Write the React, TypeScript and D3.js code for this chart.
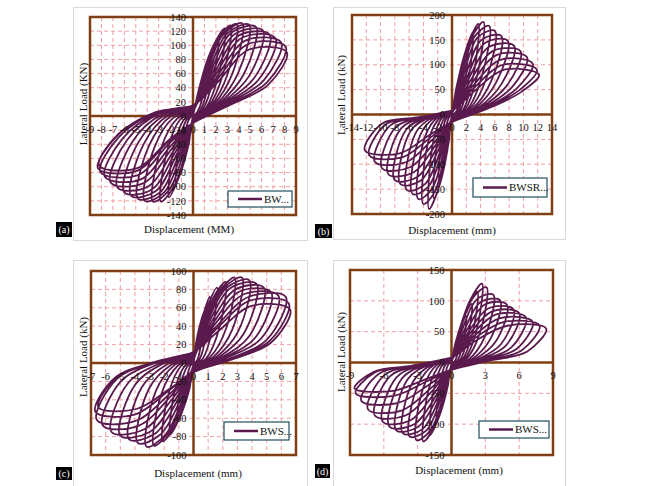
import * as d3 from 'd3';

// each lobe: [peak disp, peak load, load at 0.25*disp and 0.6*disp on loading,
//             load at 0.8*disp and 0.4*disp on unloading, load where it crosses zero disp]
type Lobe = [number, number, number, number, number, number, number];

// (a) BW
const posLoopsA: Lobe[] = [
  [1.0, 50, 18, 36, 24, 6, -2], [1.6, 85, 30, 62, 40, 8, -3], [2.2, 110, 40, 82, 52, 10, -4],
  [2.8, 124, 48, 96, 58, 11, -5], [3.3, 128, 50, 104, 60, 12, -6], [3.8, 130, 52, 110, 60, 13, -7],
  [4.3, 131, 54, 114, 60, 14, -8], [4.9, 129, 55, 116, 60, 15, -8], [5.5, 126, 56, 117, 58, 16, -9],
  [6.1, 121, 56, 116, 56, 17, -9], [6.7, 115, 55, 114, 54, 18, -10], [7.2, 110, 54, 111, 52, 18, -10],
  [7.7, 104, 52, 107, 50, 18, -10], [8.1, 98, 50, 102, 48, 17, -10], [8.2, 90, 46, 94, 44, 16, -10],
];
const negLoopsA: Lobe[] = [
  [-0.9, -60, -25, -42, -25, -5, 3], [-1.5, -95, -40, -70, -40, -6, 4], [-2.1, -115, -50, -88, -45, -6, 5],
  [-2.8, -121, -55, -100, -48, -5, 6], [-3.5, -121, -55, -105, -46, -4, 7], [-4.2, -120, -55, -108, -44, -2, 8],
  [-4.8, -117, -54, -108, -42, 0, 9], [-5.4, -113, -52, -106, -40, 1, 10], [-6.0, -108, -50, -104, -38, 2, 11],
  [-6.6, -101, -48, -100, -36, 3, 12], [-7.2, -94, -45, -95, -34, 4, 13], [-7.7, -86, -42, -90, -32, 4, 14],
  [-8.1, -79, -38, -84, -30, 5, 15], [-8.3, -74, -35, -78, -28, 5, 15], [-8.2, -70, -33, -74, -26, 4, 14],
];
const xTicksA = [-9, -8, -7, -6, -5, -4, -3, -2, -1, 0, 1, 2, 3, 4, 5, 6, 7, 8, 9];
const yTicksA = [-140, -120, -100, -80, -60, -40, -20, 0, 20, 40, 60, 80, 100, 120, 140];

// (b) BWSR
const posLoopsB: Lobe[] = [
  [1.5, 90, 35, 65, 40, 6, -3], [2.2, 135, 50, 95, 58, 7, -4], [2.9, 165, 60, 120, 70, 8, -5],
  [3.7, 182, 68, 140, 76, 8, -6], [4.4, 186, 72, 152, 78, 9, -7], [5.2, 178, 74, 156, 76, 9, -8],
  [6.0, 168, 74, 155, 72, 10, -9], [6.9, 158, 72, 150, 68, 10, -10], [7.8, 148, 70, 144, 66, 11, -11],
  [8.7, 138, 68, 136, 62, 11, -12], [9.6, 127, 64, 128, 58, 12, -13], [10.5, 115, 60, 120, 55, 12, -14],
  [11.3, 102, 56, 110, 52, 12, -14], [11.9, 90, 52, 100, 50, 12, -15], [12.2, 80, 46, 90, 46, 11, -15],
];
const negLoopsB: Lobe[] = [
  [-1.0, -70, -30, -50, -25, -5, 2], [-1.8, -130, -55, -95, -40, -6, 2], [-2.5, -170, -70, -130, -48, -6, 3],
  [-3.2, -190, -78, -150, -50, -5, 3], [-4.0, -180, -78, -155, -48, -5, 4], [-4.7, -170, -76, -150, -44, -4, 4],
  [-5.5, -160, -74, -145, -40, -4, 5], [-6.3, -152, -72, -140, -36, -4, 5], [-7.2, -140, -68, -132, -32, -4, 6],
  [-8.0, -132, -64, -125, -30, -4, 6], [-8.9, -120, -60, -116, -28, -4, 7], [-9.8, -108, -56, -106, -25, -5, 7],
  [-10.8, -95, -50, -96, -22, -5, 8], [-11.6, -82, -45, -86, -20, -6, 8], [-12.2, -72, -40, -78, -18, -6, 8],
];
const xTicksB = [-14, -12, -10, -8, -6, -4, -2, 0, 2, 4, 6, 8, 10, 12, 14];
const yTicksB = [-200, -150, -100, -50, 0, 50, 100, 150, 200];

// (c) BWS
const posLoopsC: Lobe[] = [
  [0.7, 55, 22, 40, 26, 4, -2], [1.1, 72, 28, 52, 32, 5, -3], [1.6, 82, 34, 62, 36, 5, -3],
  [2.2, 88, 38, 70, 38, 5, -4], [2.8, 93, 42, 76, 38, 6, -5], [3.3, 93, 44, 80, 36, 6, -5],
  [3.8, 90, 45, 82, 34, 6, -6], [4.3, 86, 45, 82, 32, 6, -7], [4.8, 82, 44, 80, 30, 6, -7],
  [5.3, 77, 43, 78, 28, 6, -8], [5.8, 73, 42, 75, 27, 6, -8], [6.3, 72, 40, 72, 26, 5, -9],
  [6.5, 65, 38, 68, 24, 5, -9], [6.6, 58, 34, 62, 22, 4, -10],
];
const negLoopsC: Lobe[] = [
  [-0.6, -45, -18, -30, -18, -4, 2], [-1.1, -65, -28, -48, -25, -4, 3], [-1.6, -78, -34, -60, -30, -4, 4],
  [-2.1, -85, -38, -68, -32, -3, 5], [-2.7, -90, -40, -74, -32, -3, 6], [-3.2, -91, -42, -78, -30, -2, 7],
  [-3.8, -87, -42, -78, -28, -2, 8], [-4.4, -83, -41, -77, -26, -1, 9], [-5.0, -79, -40, -75, -24, 0, 10],
  [-5.6, -75, -38, -72, -22, 0, 11], [-6.2, -68, -36, -68, -20, 1, 12], [-6.6, -62, -34, -63, -18, 1, 12],
  [-6.7, -53, -30, -56, -16, 1, 12], [-6.5, -48, -28, -50, -15, 1, 11],
];
const xTicksC = [-7, -6, -5, -4, -3, -2, -1, 0, 1, 2, 3, 4, 5, 6, 7];
const yTicksC = [-100, -80, -60, -40, -20, 0, 20, 40, 60, 80, 100];

// (d) BWS
const posLoopsD: Lobe[] = [
  [0.8, 50, 20, 38, 22, 3, -3], [1.3, 75, 30, 56, 32, 3, -4], [1.8, 95, 38, 72, 40, 3, -5],
  [2.3, 115, 45, 88, 46, 4, -6], [2.7, 128, 50, 100, 48, 4, -7], [3.1, 122, 52, 104, 46, 4, -8],
  [3.7, 110, 52, 102, 42, 4, -8], [4.3, 101, 50, 98, 38, 4, -9], [4.9, 94, 48, 94, 34, 4, -9],
  [5.5, 86, 46, 88, 30, 4, -10], [6.0, 80, 44, 83, 27, 4, -10], [6.6, 73, 42, 78, 24, 4, -11],
  [7.2, 66, 40, 72, 22, 4, -11], [7.8, 60, 38, 66, 20, 3, -12], [8.4, 55, 35, 60, 18, 3, -12],
];
const negLoopsD: Lobe[] = [
  [-0.7, -50, -20, -38, -20, -3, 2], [-1.3, -95, -38, -70, -34, -3, 2], [-1.9, -118, -50, -90, -40, -3, 3],
  [-2.5, -128, -56, -104, -42, -3, 3], [-3.1, -126, -58, -110, -40, -3, 4], [-3.7, -120, -58, -110, -36, -3, 4],
  [-4.3, -115, -58, -108, -32, -3, 5], [-4.9, -110, -56, -104, -28, -3, 5], [-5.5, -104, -54, -100, -26, -3, 6],
  [-6.1, -96, -50, -94, -24, -3, 6], [-6.8, -86, -46, -86, -22, -4, 7], [-7.4, -76, -42, -78, -20, -4, 7],
  [-8.0, -62, -36, -66, -18, -4, 8], [-8.5, -50, -30, -54, -16, -5, 8], [-8.6, -42, -26, -46, -15, -5, 8],
];
const xTicksD = [-9, -6, -3, 0, 3, 6, 9];
const yTicksD = [-150, -100, -50, 0, 50, 100, 150];

const LINE = '#5a1a4d';
const BROWN = '#7f3f12';
const GRID = '#f0a0a4';
const FONT = "'Liberation Serif', 'Times New Roman', serif";

interface Panel {
  tag: string;
  legend: string;
  xTitle: string;
  yTitle: string;
  box: [number, number, number, number];
  plot: [number, number, number, number];
  xTicks: number[];
  yTicks: number[];
  pos: Lobe[];
  neg: Lobe[];
  yTitlePos: [number, number];
  xTitlePos: [number, number];
  legendBox: [number, number, number, number];
  tagBox: [number, number, number, number];
}

const panels: Panel[] = [
  {
    tag: '(a)', legend: 'BW...', xTitle: 'Displacement (MM)', yTitle: 'Lateral Load (KN)',
    box: [73, 7, 307, 240], plot: [90, 17, 296, 215], xTicks: xTicksA, yTicks: yTicksA,
    pos: posLoopsA, neg: negLoopsA, yTitlePos: [83, 104], xTitlePos: [189, 233],
    legendBox: [228, 191, 292, 207], tagBox: [56, 222, 72, 237],
  },
  {
    tag: '(b)', legend: 'BWSR...', xTitle: 'Displacement (mm)', yTitle: 'Lateral Load (kN)',
    box: [333, 7, 565, 239], plot: [352, 15, 552, 214], xTicks: xTicksB, yTicks: yTicksB,
    pos: posLoopsB, neg: negLoopsB, yTitlePos: [341, 95], xTitlePos: [452, 234],
    legendBox: [473, 178, 547, 197], tagBox: [315, 224, 332, 238],
  },
  {
    tag: '(c)', legend: 'BWS...', xTitle: 'Displacement (mm)', yTitle: 'Lateral Load (kN)',
    box: [73, 260, 307, 492], plot: [91, 271, 296, 455], xTicks: xTicksC, yTicks: yTicksC,
    pos: posLoopsC, neg: negLoopsC, yTitlePos: [83, 357], xTitlePos: [198, 477],
    legendBox: [224, 422, 289, 440], tagBox: [56, 467, 72, 480],
  },
  {
    tag: '(d)', legend: 'BWS...', xTitle: 'Displacement (mm)', yTitle: 'Lateral Load (kN)',
    box: [333, 260, 565, 492], plot: [350, 270, 553, 455], xTicks: xTicksD, yTicks: yTicksD,
    pos: posLoopsD, neg: negLoopsD, yTitlePos: [341, 352], xTitlePos: [459, 474],
    legendBox: [479, 421, 549, 438], tagBox: [315, 464, 330, 478],
  },
];

function lobePoints(l: Lobe): [number, number][] {
  const [d, p, o1, o2, u1, u2, c] = l;
  return [[0.25 * d, o1], [0.6 * d, o2], [d, p], [0.8 * d, u1], [0.4 * d, u2], [0, c]];
}

function HysteresisPanel({ s }: { s: Panel }) {
  const [px0, py0, px1, py1] = s.plot;
  const xMax = s.xTicks[s.xTicks.length - 1];
  const yMax = s.yTicks[s.yTicks.length - 1];
  const x = d3.scaleLinear().domain([-xMax, xMax]).range([px0, px1]);
  const y = d3.scaleLinear().domain([-yMax, yMax]).range([py1, py0]);

  // one continuous path: origin -> positive lobe -> negative lobe -> positive lobe ...
  const pts: [number, number][] = [[0, 0]];
  s.pos.forEach((lp, i) => {
    pts.push(...lobePoints(lp));
    if (s.neg[i]) pts.push(...lobePoints(s.neg[i]));
  });
  const line = d3
    .line<[number, number]>()
    .x((d) => x(d[0]))
    .y((d) => y(d[1]))
    .curve(d3.curveCatmullRom.alpha(0.5));

  const [bx0, by0, bx1, by1] = s.box;
  const [lx0, ly0, lx1, ly1] = s.legendBox;
  const [tx0, ty0, tx1, ty1] = s.tagBox;
  const ly = (ly0 + ly1) / 2;

  return (
    <g>
      <rect x={bx0 + 0.5} y={by0 + 0.5} width={bx1 - bx0} height={by1 - by0} fill="#fff" stroke="#d9d9d9" />
      {/* grid */}
      {s.xTicks.map((t) => (
        <line key={'gx' + t} x1={x(t)} x2={x(t)} y1={py0} y2={py1} stroke={GRID} strokeDasharray="4 3" />
      ))}
      {s.yTicks.map((t) => (
        <line key={'gy' + t} x1={px0} x2={px1} y1={y(t)} y2={y(t)} stroke={GRID} strokeDasharray="4 3" />
      ))}
      {/* zero axes */}
      <line x1={x(0)} x2={x(0)} y1={py0} y2={py1} stroke={BROWN} strokeWidth={2.5} />
      <line x1={px0} x2={px1} y1={y(0)} y2={y(0)} stroke={BROWN} strokeWidth={2.5} />
      <path d={line(pts) ?? ''} fill="none" stroke={LINE} strokeWidth={1.8} strokeLinejoin="round" />
      <rect x={px0} y={py0} width={px1 - px0} height={py1 - py0} fill="none" stroke={BROWN} strokeWidth={2.5} />
      {/* tick labels */}
      {s.yTicks.map((t) => (
        <text key={'ty' + t} x={x(0) - 7} y={y(t)} dy="0.35em" textAnchor="end" fontSize={10.5} fill="#111">
          {t}
        </text>
      ))}
      {s.xTicks.map((t) => (
        <text key={'tx' + t} x={x(t)} y={y(0) + 13} dy="0.35em" textAnchor="middle" fontSize={10.5} fill="#111">
          {t}
        </text>
      ))}
      {/* titles */}
      <text
        transform={`translate(${s.yTitlePos[0]},${s.yTitlePos[1]}) rotate(-90)`}
        textAnchor="middle"
        dy="0.35em"
        fontSize={11}
        fill="#111"
      >
        {s.yTitle}
      </text>
      <text x={s.xTitlePos[0]} y={s.xTitlePos[1]} textAnchor="middle" fontSize={11} fill="#111">
        {s.xTitle}
      </text>
      {/* legend */}
      <rect x={lx0} y={ly0} width={lx1 - lx0} height={ly1 - ly0} fill="#fff" stroke="#1f4f5c" strokeWidth={1.2} />
      <line x1={lx0 + 10} x2={lx0 + 34} y1={ly} y2={ly} stroke={LINE} strokeWidth={2.5} />
      <text x={lx0 + 36} y={ly} dy="0.35em" fontSize={11} fill="#111">
        {s.legend}
      </text>
      {/* panel tag */}
      <rect x={tx0} y={ty0} width={tx1 - tx0} height={ty1 - ty0} fill="#000" />
      <text x={(tx0 + tx1) / 2} y={(ty0 + ty1) / 2} dy="0.35em" textAnchor="middle" fontSize={10} fill="#fff">
        {s.tag}
      </text>
    </g>
  );
}

export default function App() {
  return (
    <svg
      width={646}
      height={486}
      viewBox="0 0 646 486"
      style={{ position: 'absolute', left: 0, top: 0, background: '#fff', fontFamily: FONT }}
    >
      {panels.map((p) => (
        <HysteresisPanel key={p.tag} s={p} />
      ))}
    </svg>
  );
}
